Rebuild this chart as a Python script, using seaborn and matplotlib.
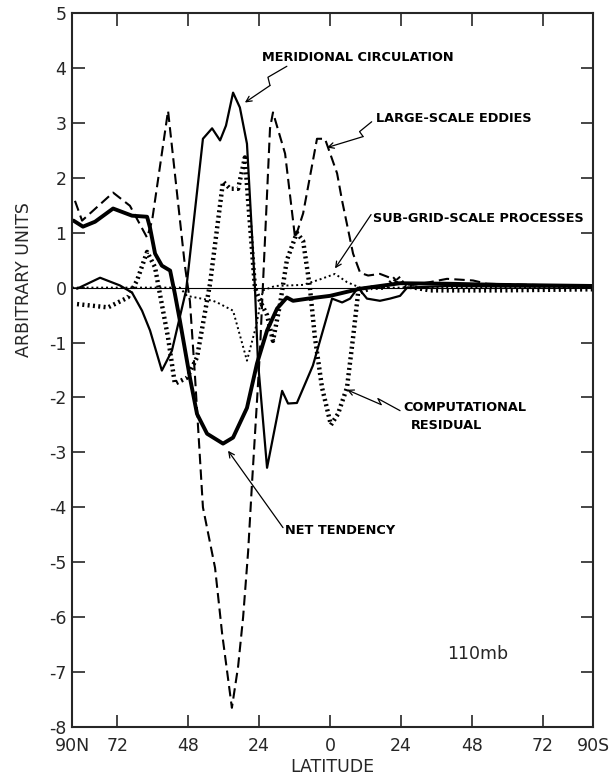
import numpy as np
import pandas as pd
import seaborn as sns
import matplotlib
matplotlib.use("Agg")
import matplotlib.pyplot as plt

# latitude in degrees: negative = north, positive = south
net_lat = [-86.8, -83.6, -79.5, -73.4, -67.0, -61.9, -60.9, -59.2, -56.9, -54.1, -52.5, -50.8,
           -47.4, -45.0, -41.6, -36.2, -32.8, -28.1, -24.7, -21.3, -17.9, -14.6, -12.5, -7.4,
           0.0, 10.2, 23.7, 40.6, 57.5, 89.0]
net_val = [1.22, 1.11, 1.20, 1.44, 1.31, 1.29, 1.09, 0.62, 0.40, 0.31, -0.11, -0.60,
           -1.64, -2.30, -2.66, -2.84, -2.73, -2.19, -1.38, -0.78, -0.38, -0.18, -0.24, -0.20,
           -0.15, -0.02, 0.08, 0.07, 0.05, 0.03]

mer_lat = [-85.6, -77.8, -71.1, -67.0, -63.6, -60.9, -56.9, -53.5, -48.7, -43.0, -39.9, -37.2,
           -35.2, -32.8, -30.5, -28.1, -25.4, -24.4, -21.3, -16.2, -14.2, -11.2, -5.8, -3.4,
           0.7, 4.1, 6.8, 9.5, 12.5, 16.9, 20.3, 23.7, 26.1, 40.0, 60.0, 89.0]
mer_val = [-0.02, 0.18, 0.04, -0.09, -0.42, -0.78, -1.51, -1.15, -0.05, 2.71, 2.90, 2.68,
           2.95, 3.55, 3.28, 2.62, 0.00, -1.33, -3.28, -1.88, -2.11, -2.10, -1.42, -0.97,
           -0.20, -0.27, -0.20, 0.00, -0.20, -0.24, -0.20, -0.15, 0.00, 0.03, 0.02, 0.02]

edd_lat = [-86.3, -83.9, -73.4, -67.7, -61.9, -60.2, -54.8, -49.1, -47.4, -45.7, -43.0, -38.9,
           -36.5, -33.2, -31.1, -29.4, -27.7, -26.4, -24.7, -23.7, -20.3, -19.3, -15.2, -11.8,
           -9.1, -4.4, -1.7, 2.4, 4.1, 7.8, 10.2, 12.9, 16.9, 20.3, 23.7, 28.1, 33.8, 39.6,
           48.4, 53.1, 67.7, 89.0]
edd_val = [1.58, 1.22, 1.73, 1.49, 0.91, 1.22, 3.22, 0.40, -0.25, -1.60, -4.00, -5.10,
           -6.30, -7.65, -6.90, -6.00, -4.80, -3.57, -2.06, -1.15, 2.90, 3.19, 2.44, 0.90,
           1.35, 2.71, 2.71, 2.08, 1.58, 0.62, 0.27, 0.22, 0.25, 0.18, 0.07, 0.05, 0.10, 0.16,
           0.13, 0.07, 0.05, 0.03]

res_lat = [-85.6, -75.1, -68.4, -65.3, -61.9, -59.2, -58.2, -54.8, -52.5, -48.4, -45.0, -40.6,
           -36.2, -33.8, -31.1, -28.8, -27.7, -25.4, -23.7, -21.3, -19.3, -16.9, -14.6, -11.2,
           -9.1, -6.8, -5.1, -2.7, 0.3, 2.7, 5.75, 7.8, 9.5, 14.2, 18.6, 22.7, 25.4, 33.8,
           57.5, 89.0]
res_val = [-0.30, -0.36, -0.18, 0.13, 0.65, 0.37, 0.07, -0.91, -1.75, -1.64, -1.27, 0.07,
           1.93, 1.80, 1.80, 2.37, 1.58, 0.00, -0.24, -0.50, -0.97, -0.30, 0.50, 1.00,
           0.85, 0.00, -0.91, -1.82, -2.50, -2.30, -1.82, -0.91, -0.10, 0.00, 0.00, 0.20, 0.03, -0.05,
           -0.05, -0.03]

sub_lat = [-87.3, -50.8, -48.4, -39.6, -38.2, -32.8, -28.1, -25.0, -22.7, -18.6, -9.1, -3.4,
           1.7, 5.75, 10.2, 89.0]
sub_val = [0.00, 0.00, -0.15, -0.24, -0.27, -0.42, -1.33, -0.70, -0.05, 0.03, 0.05, 0.15,
           0.25, 0.10, 0.00, 0.00]

xticks = [-87.3, -72, -48, -24, 0, 24, 48, 72, 89.0]
xticklabels = ["90N", "72", "48", "24", "0", "24", "48", "72", "90S"]
yticks = list(range(-8, 6))

sns.set_style("ticks")
plt.rcParams["font.family"] = ["DejaVu Sans"]
plt.rcParams["axes.unicode_minus"] = False

fig = plt.figure(figsize=(6.16, 7.83), dpi=100)
ax = fig.add_axes([0.1169, 0.0715, 0.8458, 0.9119])

ax.axhline(0, color="black", lw=0.8, zorder=1)

sns.lineplot(x=sub_lat, y=sub_val, ax=ax, color="black", lw=1.4,
             linestyle=(0, (1.0, 1.5)), sort=False, estimator=None)
sns.lineplot(x=res_lat, y=res_val, ax=ax, color="black", lw=3.2,
             linestyle=(0, (0.45, 0.75)), sort=False, estimator=None)
sns.lineplot(x=edd_lat, y=edd_val, ax=ax, color="black", lw=1.5,
             linestyle=(0, (5, 2.5)), sort=False, estimator=None)
sns.lineplot(x=mer_lat, y=mer_val, ax=ax, color="black", lw=1.6,
             sort=False, estimator=None)
sns.lineplot(x=net_lat, y=net_val, ax=ax, color="black", lw=2.8,
             sort=False, estimator=None)

ax.set_xlim(-87.3, 89.0)
ax.set_ylim(-8, 5)
ax.set_xticks(xticks)
ax.set_xticklabels(xticklabels)
ax.set_yticks(yticks)
ax.tick_params(direction="in", top=True, right=True, length=9, width=1.2,
               labelsize=12.5)
ax.tick_params(axis="x", pad=7)
ax.tick_params(axis="y", pad=4)
for s in ax.spines.values():
    s.set_linewidth(1.5)
ax.set_xlabel("LATITUDE", fontsize=12.5, labelpad=2)
ax.set_ylabel("ARBITRARY UNITS", fontsize=12.5)
ax.yaxis.set_label_coords(-0.075, 0.627)

lab = dict(fontsize=9.3, fontweight="bold", color="black")
arr = dict(arrowstyle="->", color="black", lw=0.9, shrinkA=0, shrinkB=0)


def bolt(p0, p1, p2, tip):
    ax.plot([p0[0], p1[0], p2[0]], [p0[1], p1[1], p2[1]], color="black", lw=0.9)
    ax.annotate("", xy=tip, xytext=p2, arrowprops=arr)


ax.text(-23.0, 4.19, "MERIDIONAL CIRCULATION", ha="left", va="center", **lab)
bolt((-14.6, 4.03), (-21.0, 3.83), (-20.3, 3.68), (-28.8, 3.37))

ax.text(15.6, 3.08, "LARGE-SCALE EDDIES", ha="left", va="center", **lab)
bolt((14.1, 3.02), (10.0, 2.84), (11.2, 2.75), (-1.0, 2.55))

ax.text(14.6, 1.26, "SUB-GRID-SCALE PROCESSES", ha="left", va="center", **lab)
ax.annotate("", xy=(1.7, 0.35), xytext=(13.9, 1.33), arrowprops=arr)

ax.text(24.7, -2.19, "COMPUTATIONAL", ha="left", va="center", **lab)
ax.text(27.4, -2.51, "RESIDUAL", ha="left", va="center", **lab)
bolt((23.7, -2.24), (16.2, -2.02), (17.3, -2.13), (5.75, -1.86))

ax.text(-15.2, -4.43, "NET TENDENCY", ha="left", va="center", **lab)
ax.annotate("", xy=(-34.5, -2.97), xytext=(-15.9, -4.37), arrowprops=arr)

ax.text(39.6, -6.67, "110mb", ha="left", va="center", fontsize=12.5)

fig.savefig("out.png", dpi=100)
